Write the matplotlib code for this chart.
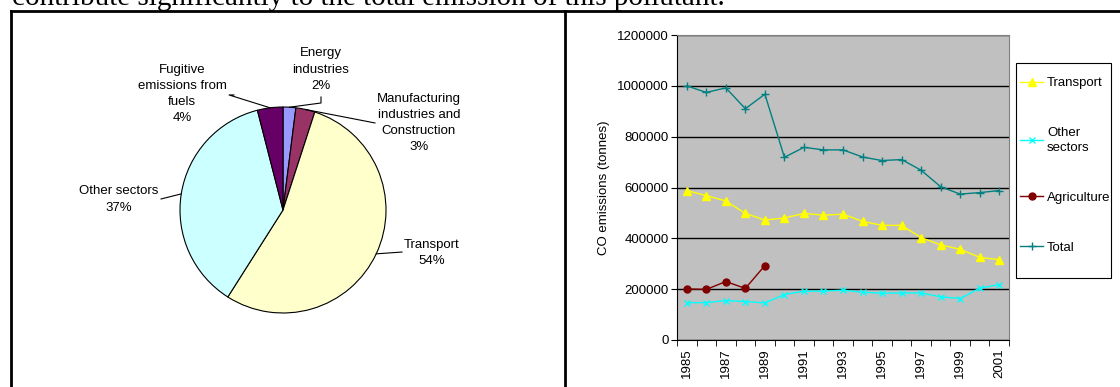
import numpy as np
import matplotlib
matplotlib.use("Agg")
import matplotlib.pyplot as plt
from matplotlib.lines import Line2D
from matplotlib.patches import Rectangle

plt.rcParams['font.family'] = ['Liberation Sans', 'DejaVu Sans']
FS = 9.5

# pie data (share of CO emissions, %)
pie_labels = ["Energy\nindustries", "Manufacturing\nindustries and\nConstruction",
              "Transport", "Other sectors", "Fugitive\nemissions from\nfuels"]
pie_pct = [2, 3, 54, 37, 4]
pie_colors = ["#9999FF", "#993366", "#FFFFCC", "#CCFFFF", "#660066"]

# line data (tonnes)
years = list(range(1985, 2002))
transport = [588000, 568000, 547000, 498000, 472000, 480000, 498000, 491000, 495000,
             467000, 451000, 451000, 403000, 374000, 357000, 325000, 316000]
other = [147000, 147000, 155000, 151000, 146000, 179000, 192000, 192000, 196000,
         188000, 184000, 185000, 185000, 170000, 163000, 204000, 218000]
agri_years = [1985, 1986, 1987, 1988, 1989]
agriculture = [201000, 199000, 230000, 203000, 293000]
total = [1000000, 974000, 992000, 910000, 967000, 719000, 758000, 748000, 748000,
         720000, 706000, 710000, 668000, 603000, 574000, 580000, 588000]

W, H = 1120, 387
fig = plt.figure(figsize=(W / 100, H / 100), dpi=100)

# text of the page above the charts
fig.text(12 / W, 1 - 5 / H, "contribute significantly to the total emission of this pollutant.",
         family="Liberation Serif", fontsize=21, va="baseline", ha="left")

# frames around the two charts
fig.add_artist(Line2D([11 / W, 1.0], [1 - 11 / H, 1 - 11 / H], color="black", lw=2))
fig.add_artist(Line2D([11 / W, 11 / W], [0, 1 - 11 / H], color="black", lw=2))
fig.add_artist(Line2D([565 / W, 565 / W], [0, 1 - 11 / H], color="black", lw=2))

# ---- pie ----
cx, cy, r = 283, 210, 103
axp = fig.add_axes([13 / W, 0, (563 - 13) / W, (H - 13) / H])
wedges, _ = axp.pie(pie_pct, colors=pie_colors, startangle=90, counterclock=False,
                    wedgeprops=dict(edgecolor="black", linewidth=0.8))
axp.set_aspect("auto")
axp.set_xlim((13 - cx) / r, (563 - cx) / r)
axp.set_ylim(-(H - cy) / r, (cy - 13) / r)
axp.axis("off")

# label blocks (pie units) and leader line elbows
label_pos = [(0.369, 1.364), (1.320, 0.845), (1.447, -0.417), (-1.596, 0.102), (-0.981, 1.126)]
elbows = [[(0.369, 1.039), (0.369, 1.097)],
          [(0.893, 0.845)],
          [(1.155, -0.408)],
          [(-1.184, 0.107)],
          [(-0.524, 1.117), (-0.476, 1.117)]]
for w, lab, pct, pos, elb in zip(wedges, pie_labels, pie_pct, label_pos, elbows):
    mid = np.deg2rad((w.theta1 + w.theta2) / 2)
    ex, ey = np.cos(mid), np.sin(mid)
    pts = [(ex, ey)] + elb
    axp.plot([p[0] for p in pts], [p[1] for p in pts], color="black", lw=0.8)
    axp.text(pos[0], pos[1], lab + "\n" + str(pct) + "%", ha="center", va="center",
             fontsize=FS, linespacing=1.45)

# ---- line chart ----
ax = fig.add_axes([677 / W, 1 - 340 / H, (1009 - 677) / W, (340 - 35) / H])
ax.set_facecolor("#C0C0C0")
xi = np.arange(len(years))
ax.plot(xi, transport, color="#FFFF00", marker="^", ms=5.5, lw=1, label="Transport")
ax.plot(xi, other, color="#00FFFF", marker="x", ms=5, mew=1, lw=1, label="Other\nsectors")
ax.plot([years.index(y) for y in agri_years], agriculture, color="#800000", marker="o",
        ms=5, lw=1, label="Agriculture")
ax.plot(xi, total, color="#008080", marker="+", ms=6, mew=1, lw=1, label="Total")

ax.set_xlim(-0.5, len(years) - 0.5)
ax.set_ylim(0, 1200000)
ax.set_yticks(np.arange(0, 1200001, 200000))
ax.set_yticklabels([str(v) for v in range(0, 1200001, 200000)])
ax.grid(axis="y", color="black", lw=1)
ax.set_axisbelow(True)
ax.set_xticks(xi[::2])
ax.set_xticklabels([str(y) for y in years[::2]], rotation=90)
ax.set_xticks(np.arange(-0.5, len(years)), minor=True)
ax.tick_params(axis="x", which="major", length=0, pad=6, labelsize=FS)
ax.tick_params(axis="x", which="minor", length=4, direction="out")
ax.tick_params(axis="y", length=4, direction="out", labelsize=FS, pad=2)
ax.set_ylabel("CO emissions (tonnes)", fontsize=FS, labelpad=5)
for s in ["top", "right"]:
    ax.spines[s].set_color("#808080")

# legend box drawn in figure coordinates, entries placed inside it
fig.add_artist(Rectangle((1016 / W, 1 - 278 / H), 95 / W, 215 / H, transform=fig.transFigure,
                         facecolor="white", edgecolor="black", lw=0.8, zorder=1))
handles, labels = ax.get_legend_handles_labels()
leg = fig.legend(handles, labels, loc="upper left", bbox_to_anchor=(1020 / W, 1 - 77 / H),
                 fontsize=FS, frameon=False, labelspacing=2.85, handlelength=1.75,
                 handletextpad=0.3, borderpad=0, borderaxespad=0)
for t in leg.get_texts():
    t.set_linespacing(1.35)
leg.set_zorder(5)

fig.savefig("out.png", dpi=100)
